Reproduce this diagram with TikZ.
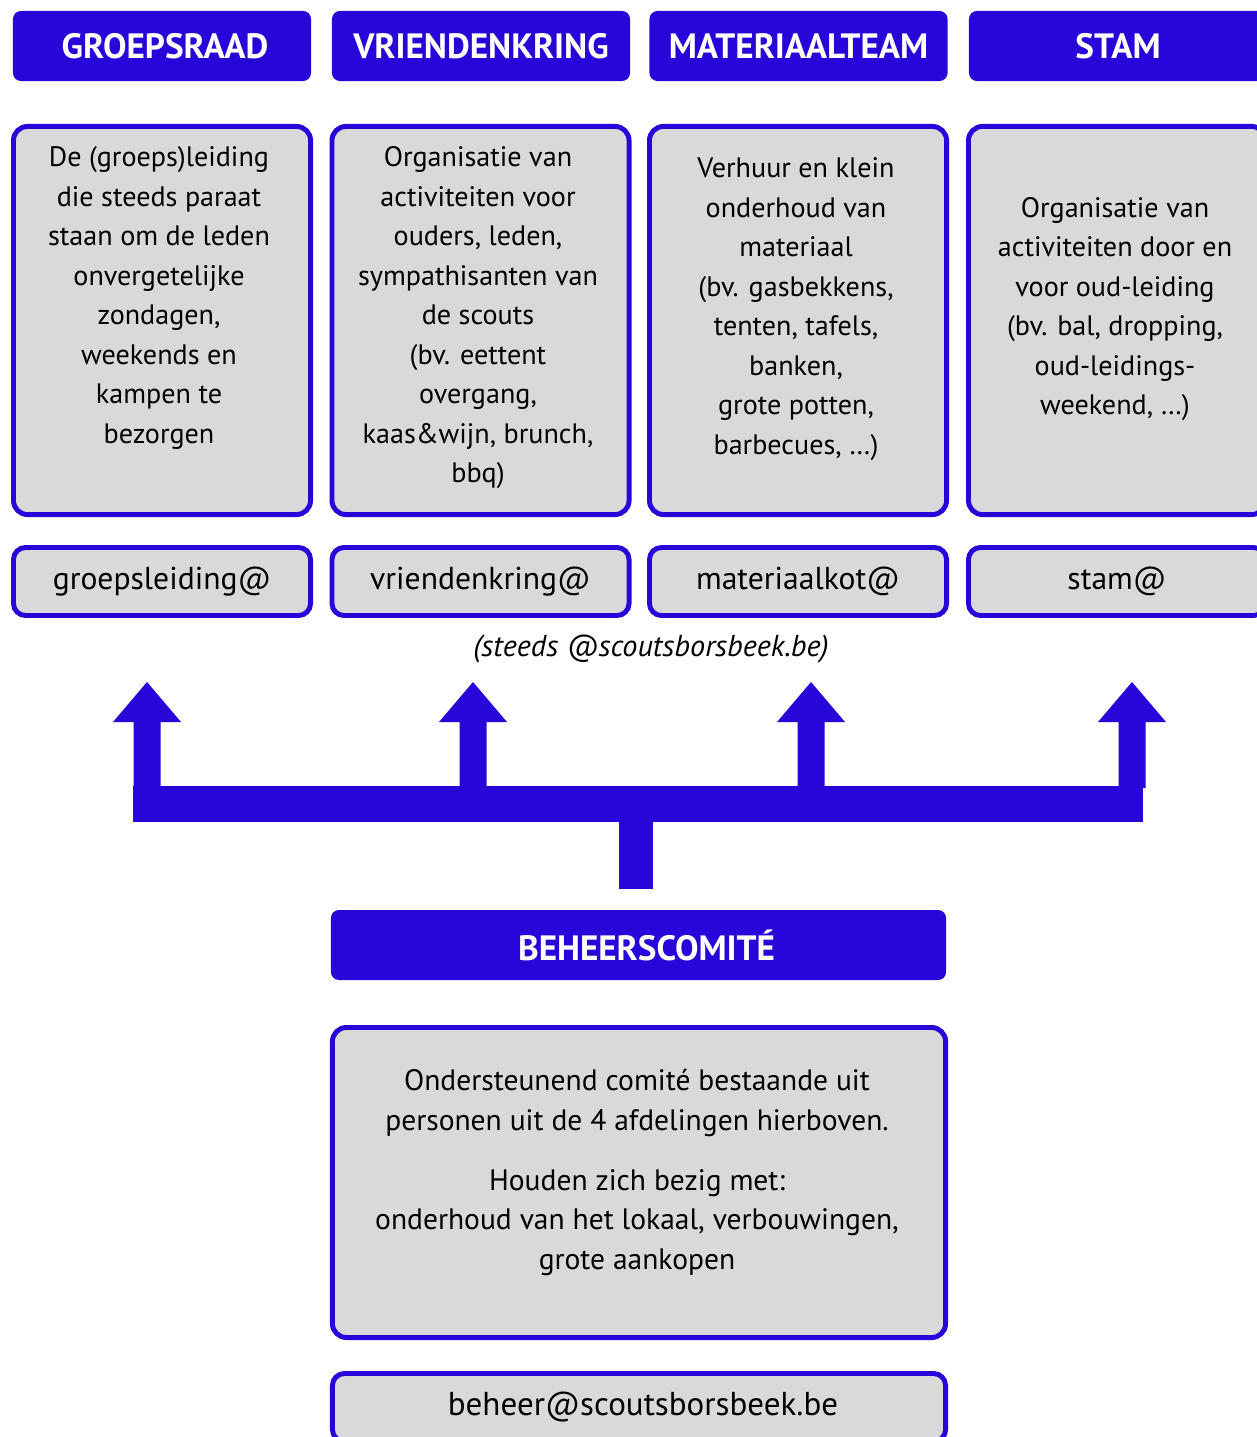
\documentclass[tikz,border=0pt]{standalone}
\usepackage{fontspec}
\setmainfont{PT Sans}
\usepackage{xcolor}
\usetikzlibrary{positioning}
\definecolor{scoutblue}{RGB}{38,6,217}
\definecolor{boxgrey}{RGB}{217,217,217}
\tikzset{kop/.style={rectangle,fill=scoutblue,rounded corners=0.2cm,minimum width=7.45cm,minimum height=1.75cm,inner sep=0pt,text=white,font=\fontsize{25}{30}\selectfont\bfseries}}
\tikzset{vak/.style={rectangle,draw=scoutblue,fill=boxgrey,line width=3.5pt,rounded corners=0.35cm,minimum width=7.425cm,minimum height=9.7cm,inner sep=0pt}}
\tikzset{mail/.style={rectangle,draw=scoutblue,fill=boxgrey,line width=3.5pt,rounded corners=0.3cm,minimum width=7.425cm,minimum height=1.7cm,inner sep=0pt,font=\fontsize{22.5}{27}\selectfont}}
\tikzset{tekst/.style={align=center,inner sep=0pt,font=\fontsize{20}{28.1}\selectfont}}

\begin{document}
\begin{tikzpicture}[x=0.025cm,y=-0.025cm]
    \useasboundingbox[fill=white] (0,0) rectangle (1256,1437);

    \node[kop] (a)at (162,46) {\hspace*{0.15cm}GROEPSRAAD};
    \node[kop] (b)at (481,46) {VRIENDENKRING};
    \node[kop] (c)at (798.5,46) {MATERIAALTEAM};
    \node[kop] (d)at (1118,46) {STAM};

    \node[vak] (a1)at (162,320.5) {};
    \node[vak] (b1)at (480.5,320.5) {};
    \node[vak] (c1)at (798,320.5) {};
    \node[vak] (d1)at (1117,320.5) {};

    \node[tekst] (a2)at (159,298) {De (groeps)leiding\\die steeds paraat\\staan om de leden\\onvergetelijke\\zondagen,\\weekends en\\kampen te\\bezorgen};
    \node[tekst] (b2)at (478,318) {Organisatie van\\activiteiten voor\\ouders, leden,\\sympathisanten van\\de scouts\\(bv. eettent\\overgang,\\kaas\&wijn, brunch,\\bbq)};
    \node[tekst] (c2)at (796,309) {Verhuur en klein\\onderhoud van\\materiaal\\(bv. gasbekkens,\\tenten, tafels,\\banken,\\grote potten,\\barbecues, \dots)};
    \node[tekst] (d2)at (1115,309) {Organisatie van\\activiteiten door en\\voor oud-leiding\\(bv. bal, dropping,\\oud-leidings-\\weekend, \dots)};

    \node[mail] (a3)at (162,581.5) {groepsleiding@};
    \node[mail] (b3)at (480.5,581.5) {vriendenkring@};
    \node[mail] (c3)at (798,581.5) {materiaalkot@};
    \node[mail] (d3)at (1117,581.5) {stam@};

    \node[tekst,font=\fontsize{21.5}{24}\selectfont\itshape] (s)at (651,649) {(steeds @scoutsborsbeek.be)};

    % pijlen naar de vier afdelingen
    \fill[scoutblue] (619,889) rectangle (653,818);
    \fill[scoutblue] (133,786) rectangle (1143,822);
    \foreach \px in {147,473,811,1132}
        \fill[scoutblue] (\px-13.5,788) -- (\px-13.5,722) -- (\px-34,722) -- (\px,682)
            -- (\px+34,722) -- (\px+13.5,722) -- (\px+13.5,788) -- cycle;

    \node[kop,minimum width=15.375cm] (e)at (638.5,945) {\hspace*{0.4cm}BEHEERSCOMIT\'E};
    \node[vak,minimum width=15.325cm,minimum height=7.75cm] (e1)at (639,1182.5) {};
    \node[tekst,font=\fontsize{21}{28.1}\selectfont] (e2)at (637,1172.5) {Ondersteunend comit\'e bestaande uit\\personen uit de 4 afdelingen hierboven.\\[0.7em]Houden zich bezig met:\\onderhoud van het lokaal, verbouwingen,\\grote aankopen};
    \node[mail,minimum width=15.325cm,font=\fontsize{23.5}{28}\selectfont] (e3)at (639,1407.5) {\hspace*{0.2cm}beheer@scoutsborsbeek.be};
\end{tikzpicture}
\end{document}
